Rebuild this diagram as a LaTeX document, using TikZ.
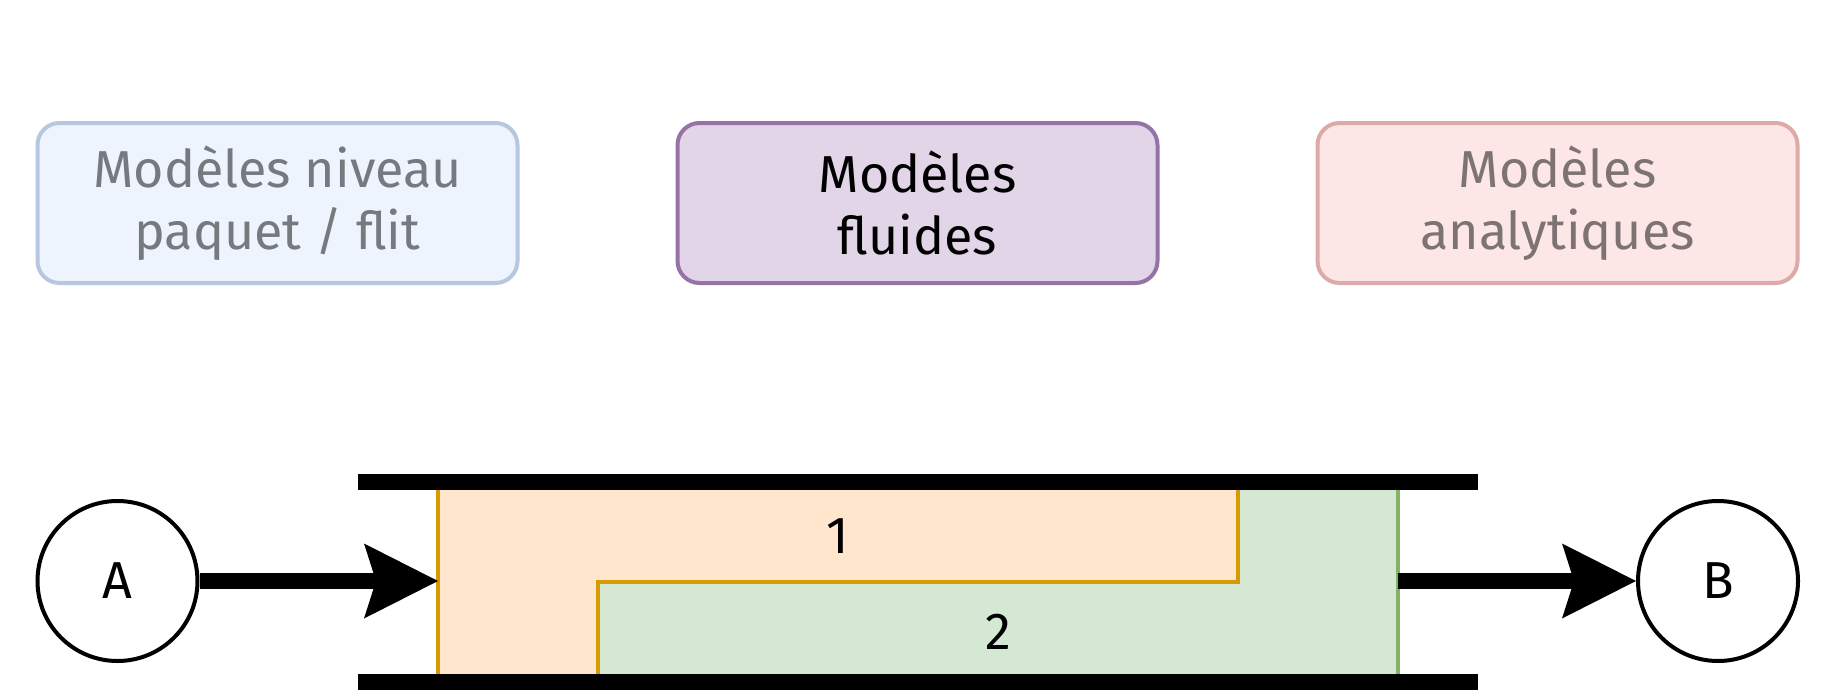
\documentclass[tikz,border=0pt]{standalone}
\usepackage{fontspec}
\setmainfont{Fira Sans}
\usetikzlibrary{arrows.meta}
\definecolor{bluefill}{HTML}{EDF4FE}
\definecolor{blueline}{HTML}{B6C7DF}
\definecolor{bluetext}{HTML}{767A7F}
\definecolor{purplefill}{HTML}{E1D5E7}
\definecolor{purpleline}{HTML}{9673A6}
\definecolor{redfill}{HTML}{FCE7E6}
\definecolor{redline}{HTML}{DCAAA8}
\definecolor{redtext}{HTML}{7E7373}
\definecolor{orangefill}{HTML}{FFE6CC}
\definecolor{orangeline}{HTML}{D79B00}
\definecolor{greenfill}{HTML}{D5E8D4}
\definecolor{greenline}{HTML}{82B366}
\begin{document}
\begin{tikzpicture}[x=1pt,y=-1pt,
  bigfont/.style={font=\fontsize{52}{62}\selectfont},
  model/.style={draw, line width=4pt, rounded corners=22pt, minimum width=480pt,
    minimum height=160pt, align=center, inner sep=0pt, bigfont},
  endpoint/.style={circle, draw, line width=4pt, minimum size=160pt, inner sep=0pt, bigfont},
  label/.style={inner sep=0pt, bigfont},
  bar/.style={line width=16pt},
  conn/.style={line width=16pt, -{Stealth[length=74pt, width=75pt, inset=12pt, line width=0pt]}}
]
\useasboundingbox (0,0) rectangle (1840,696);

\node[model, fill=bluefill, draw=blueline, text=bluetext] (m1) at (277.5,203) {Modèles niveau\\paquet / flit};
\node[model, fill=purplefill, draw=purpleline, text=black] (m2) at (917.5,203) {Modèles\\fluides};
\node[model, fill=redfill, draw=redline, text=redtext] (m3) at (1557.5,203) {Modèles\\analytiques};

% channel regions
\fill[greenfill] (598,582) -- (1238,582) -- (1238,486) -- (1398,486) -- (1398,678) -- (598,678) -- cycle;
\draw[greenline, line width=4pt] (1398,486) -- (1398,678);
\filldraw[fill=orangefill, draw=orangeline, line width=4pt]
  (438,678) -- (438,486) -- (1238,486) -- (1238,582) -- (598,582) -- (598,678);

% walls
\draw[bar] (358,482) -- (1478,482);
\draw[bar] (358,682) -- (1478,682);

\node[label] (n1) at (838,536) {1};
\node[label] (n2) at (998,632) {2};

\node[endpoint] (A) at (117.5,581) {A};
\node[endpoint] (B) at (1718,581) {B};

\coordinate (cin) at (438,581);
\coordinate (cout) at (1398,581);

\draw[conn] (A) -- (cin);
\draw[conn] (cout) -- (B);
\end{tikzpicture}
\end{document}
